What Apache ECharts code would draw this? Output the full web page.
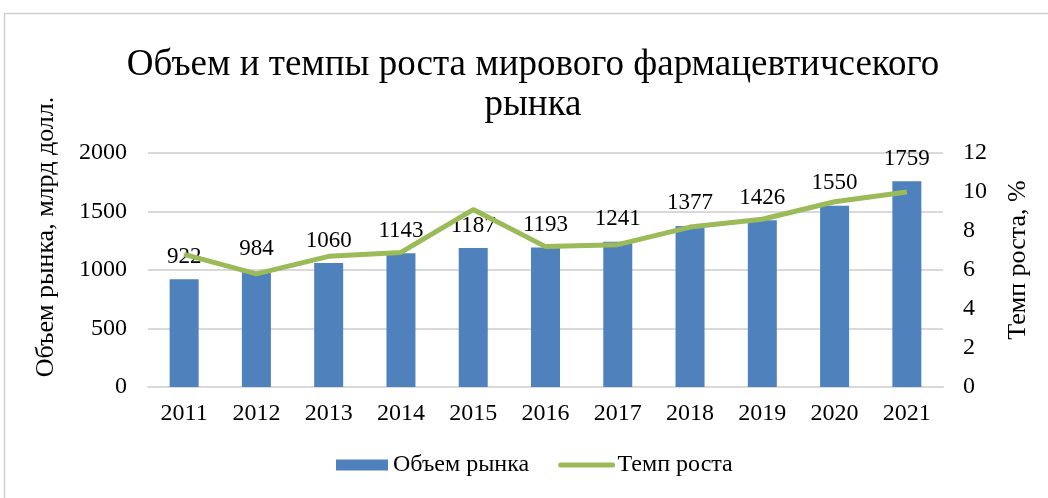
<!DOCTYPE html>
<html>
<head>
<meta charset="utf-8">
<script src="https://cdn.jsdelivr.net/npm/echarts@6/dist/echarts.min.js"></script>
<style>
html, body { margin: 0; padding: 0; background: #fff; }
#main { width: 1048px; height: 498px; }
</style>
</head>
<body>
<div id="main"></div>
<script>
// данные графика
var years = ['2011', '2012', '2013', '2014', '2015', '2016', '2017', '2018', '2019', '2020', '2021'];
var volume = [922, 984, 1060, 1143, 1187, 1193, 1241, 1377, 1426, 1550, 1759];
var growth = [6.8, 5.8, 6.7, 6.9, 9.1, 7.2, 7.3, 8.2, 8.6, 9.5, 10.0];

var FONT = '"Liberation Serif", "Times New Roman", serif';

var myChart = echarts.init(document.getElementById('main'));

var option = {
    textStyle: { fontFamily: FONT, color: '#000' },
    graphic: [{
        type: 'rect',
        z: -10,
        shape: { x: 4.5, y: 13.5, width: 1100, height: 600 },
        style: { fill: 'none', stroke: '#d0d0d0', lineWidth: 1.5 }
    }],
    title: {
        text: 'Объем и темпы роста мирового фармацевтичсекого\nрынка',
        left: 528,
        textAlign: 'center',
        top: 40,
        textStyle: {
            fontFamily: FONT,
            fontWeight: 'normal',
            fontSize: 37,
            lineHeight: 40,
            color: '#000'
        }
    },
    legend: {
        bottom: 16,
        left: 331,
        itemGap: 29,
        itemWidth: 52,
        itemHeight: 11,
        textStyle: { fontFamily: FONT, fontSize: 24, color: '#000' },
        data: [
            { name: 'Объем рынка', icon: 'rect' },
            { name: 'Темп роста', itemStyle: { opacity: 0 }, lineStyle: { width: 5, cap: 'round' } }
        ]
    },
    grid: { left: 148, right: 105, top: 153, bottom: 111 },
    xAxis: {
        type: 'category',
        data: years,
        axisLine: { lineStyle: { color: '#d9d9d9', width: 2 } },
        axisTick: { show: false },
        axisLabel: { fontFamily: FONT, fontSize: 24, color: '#000', margin: 15 }
    },
    yAxis: [
        {
            type: 'value',
            min: 0,
            max: 2000,
            interval: 500,
            name: 'Объем рынка, млрд долл.',
            nameLocation: 'middle',
            nameGap: 89,
            nameTextStyle: { fontFamily: FONT, fontSize: 26, color: '#000', padding: [0, 0, 0, 66] },
            axisLine: { show: false },
            axisTick: { show: false },
            axisLabel: {
                fontFamily: FONT, fontSize: 24, color: '#000', margin: 21,
                formatter: function (v) { return String(v); }
            },
            splitLine: { lineStyle: { color: '#d9d9d9', width: 2 } }
        },
        {
            type: 'value',
            min: 0,
            max: 12,
            interval: 2,
            name: 'Темп роста, %',
            nameLocation: 'middle',
            nameGap: 62,
            nameRotate: 90,
            nameTextStyle: { fontFamily: FONT, fontSize: 26, color: '#000', padding: [0, 0, 0, 20] },
            axisLine: { show: false },
            axisTick: { show: false },
            axisLabel: { fontFamily: FONT, fontSize: 24, color: '#000', margin: 20 },
            splitLine: { show: false }
        }
    ],
    series: [
        {
            name: 'Объем рынка',
            type: 'bar',
            data: volume,
            barWidth: 29,
            itemStyle: { color: '#4F81BD' },
            label: {
                show: true,
                position: 'top',
                distance: 11,
                fontFamily: FONT,
                fontSize: 23,
                color: '#000'
            }
        },
        {
            name: 'Темп роста',
            type: 'line',
            yAxisIndex: 1,
            data: growth,
            symbol: 'none',
            z: 3,
            lineStyle: { color: '#9BBB59', width: 5 },
            itemStyle: { color: '#9BBB59' }
        }
    ]
};

myChart.setOption(option);
</script>
</body>
</html>
